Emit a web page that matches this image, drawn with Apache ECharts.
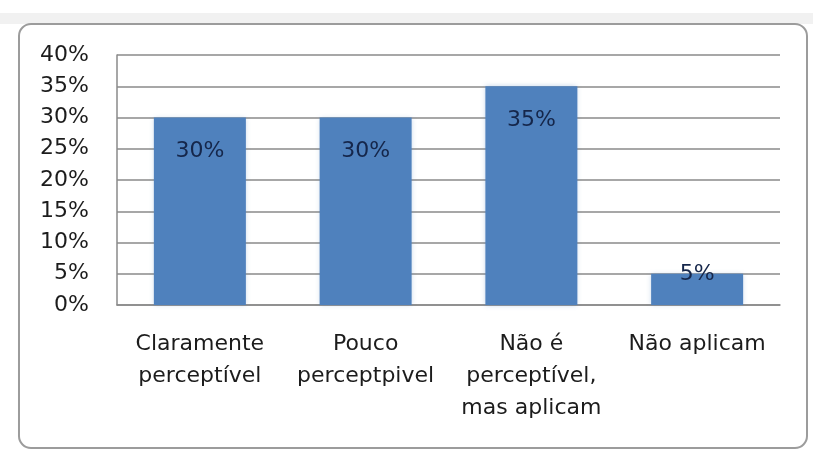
<!DOCTYPE html>
<html>
<head>
<meta charset="utf-8">
<script src="https://cdn.jsdelivr.net/npm/echarts@6/dist/echarts.min.js"></script>
<style>
  html, body { margin: 0; padding: 0; background: #ffffff; }
  #chart { width: 813px; height: 456px; }
</style>
</head>
<body>
<div id="chart"></div>
<script>
// Categories (answer options) and the share of answers for each
const categories = [
  'Claramente\nperceptível',
  'Pouco\nperceptpivel',
  'Não é\nperceptível,\nmas aplicam',
  'Não aplicam'
];
const shares = [30, 30, 35, 5];
const yTicks = [0, 5, 10, 15, 20, 25, 30, 35, 40];

const chart = echarts.init(document.getElementById('chart'), null, { renderer: 'canvas' });

const fontFamily = '"DejaVu Sans", "Open Sans", sans-serif';

const barData = shares.map(function (v) {
  const item = { value: v };
  // the small bar carries its label straddling its top edge
  if (v < 10) {
    item.label = { position: 'insideTop', distance: -10 };
  }
  return item;
});

chart.setOption({
  backgroundColor: '#ffffff',
  animation: false,
  graphic: [
    {
      type: 'rect',
      shape: { x: 0, y: 13, width: 813, height: 11 },
      style: { fill: '#f1f1f1' },
      silent: true,
      z: -2
    },
    {
      type: 'rect',
      shape: { x: 19, y: 24, width: 788, height: 424, r: 12 },
      style: { fill: '#ffffff', stroke: '#9c9c9c', lineWidth: 2 },
      silent: true,
      z: -1
    }
  ],
  grid: { left: 117, right: 33, top: 55, bottom: 151, containLabel: false },
  xAxis: {
    type: 'category',
    data: categories,
    axisLine: { show: true, lineStyle: { color: '#8a8a8a', width: 1.5 } },
    axisTick: { show: false },
    axisLabel: {
      interval: 0,
      margin: 23,
      color: '#1c1c1c',
      fontSize: 22,
      lineHeight: 32,
      fontFamily: fontFamily
    }
  },
  yAxis: {
    type: 'value',
    min: 0,
    max: 40,
    interval: 5,
    axisLine: { show: true, lineStyle: { color: '#8a8a8a', width: 1.5 } },
    axisTick: { show: false },
    axisLabel: {
      margin: 28,
      color: '#1c1c1c',
      fontSize: 22,
      fontFamily: fontFamily,
      formatter: function (v) { return yTicks.indexOf(v) >= 0 ? v + '%' : ''; }
    },
    splitLine: { show: true, lineStyle: { color: '#8a8a8a', width: 1.5 } }
  },
  series: [{
    type: 'bar',
    data: barData,
    barWidth: '55.5%',
    itemStyle: {
      color: '#4f81bd',
      shadowColor: 'rgba(79,129,189,0.35)',
      shadowBlur: 5
    },
    label: {
      show: true,
      position: 'insideTop',
      distance: 23,
      color: '#15264a',
      fontSize: 22,
      fontFamily: fontFamily,
      formatter: function (p) { return p.value + '%'; }
    }
  }]
});
</script>
</body>
</html>
